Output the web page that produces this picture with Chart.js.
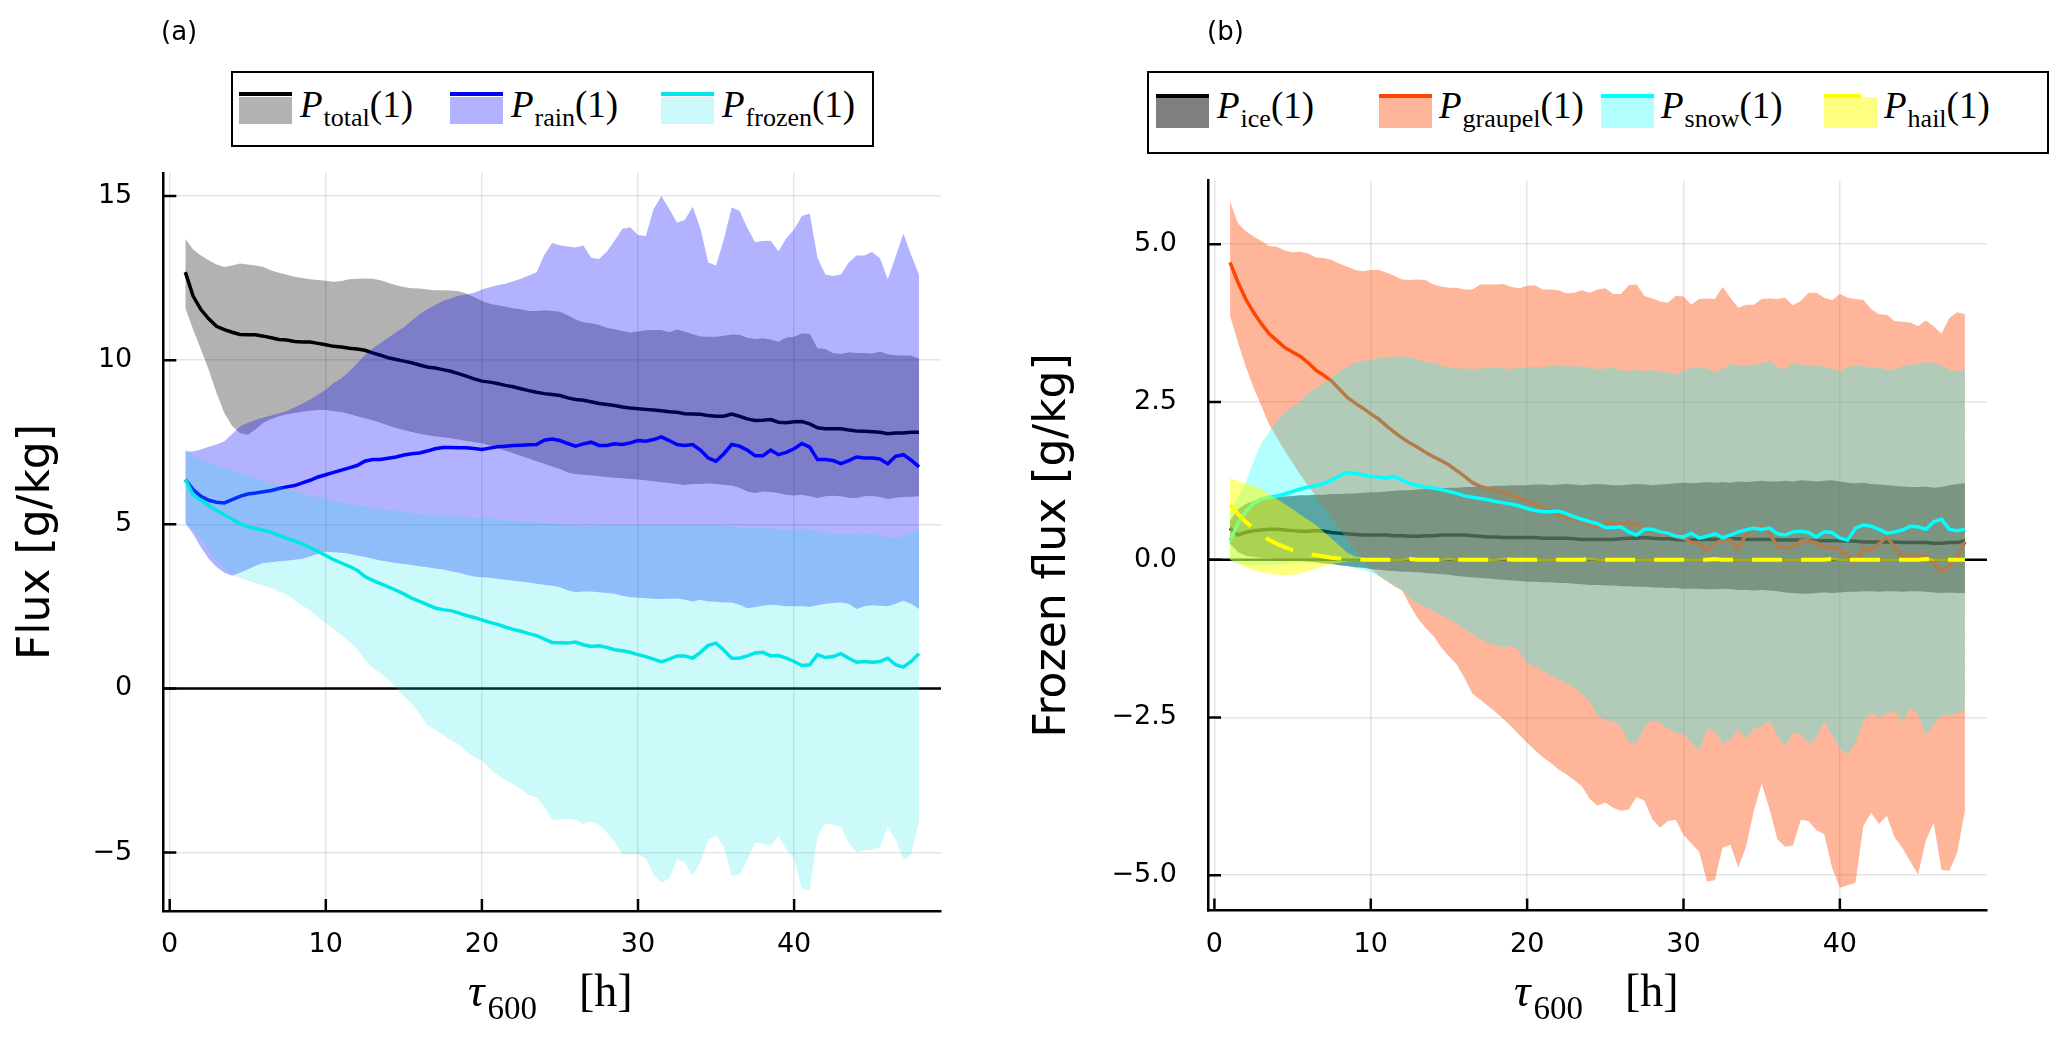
<!DOCTYPE html>
<html>
<head>
<meta charset="utf-8">
<title>Flux ensembles</title>
<script src="https://cdn.jsdelivr.net/npm/chart.js@4.4.1/dist/chart.umd.min.js"></script>
<style>
  html, body { margin: 0; padding: 0; background: #fff; }
  #page { position: relative; width: 2067px; height: 1038px; overflow: hidden; background: #fff; }
  canvas { position: absolute; left: 0; top: 0; }
  .tag { position: absolute; font-family: "DejaVu Sans"; font-size: 26px; line-height: 26px; color: #000; }
  .legend { position: absolute; border: 2px solid #000; background: #fff; box-sizing: border-box; }
  .box { position: absolute; }
  .math { position: absolute; font-family: "Liberation Serif"; color: #000; white-space: nowrap; }
  .math i { font-style: italic; }
  .math .sub { position: relative; line-height: 0; }
</style>
</head>
<body>
<div id="page">
  <canvas id="chartA" width="2067" height="1038"></canvas>
  <canvas id="chartB" width="2067" height="1038"></canvas>
  <div class="tag" style="left:161px;top:18px">(a)</div>
  <div class="tag" style="left:1207px;top:18px">(b)</div>
  <div class="legend" style="left:231px;top:71px;width:643px;height:76px"></div>
  <div class="legend" style="left:1147px;top:71px;width:902px;height:83px"></div>
  <div id="legendItems"></div>
  <div class="math" style="left:468px;top:968px;font-size:46px;line-height:46px"><i>τ</i><span class="sub" style="font-size:33px;top:13px;margin-left:3px">600</span><span style="margin-left:42px">[h]</span></div>
  <div class="math" style="left:1514px;top:968px;font-size:46px;line-height:46px"><i>τ</i><span class="sub" style="font-size:33px;top:13px;margin-left:3px">600</span><span style="margin-left:42px">[h]</span></div>
</div>
<script>
// lead time [h]
const tau = [1,1.5,2,2.5,3,3.5,4,4.5,5,5.5,
  6,6.5,7,7.5,8,8.5,9,9.5,10,10.5,
  11,11.5,12,12.5,13,13.5,14,14.5,15,15.5,
  16,16.5,17,17.5,18,18.5,19,19.5,20,20.5,
  21,21.5,22,22.5,23,23.5,24,24.5,25,25.5,
  26,26.5,27,27.5,28,28.5,29,29.5,30,30.5,
  31,31.5,32,32.5,33,33.5,34,34.5,35,35.5,
  36,36.5,37,37.5,38,38.5,39,39.5,40,40.5,
  41,41.5,42,42.5,43,43.5,44,44.5,45,45.5,
  46,46.5,47,47.5,48];

const xTicks = [0, 10, 20, 30, 40];
const xTickLabels = ['0', '10', '20', '30', '40'];
const yTicksA = [-5, 0, 5, 10, 15];
const yTickLabelsA = ['\u22125', '0', '5', '10', '15'];
const yTicksB = [-5, -2.5, 0, 2.5, 5];
const yTickLabelsB = ['\u22125.0', '\u22122.5', '0.0', '2.5', '5.0'];

// ---- panel (a) ----
const totalMean = [12.68,11.95,11.54,11.26,11.03,10.93,10.85,10.78,10.77,10.77,
  10.73,10.68,10.63,10.61,10.57,10.55,10.55,10.51,10.47,10.42,
  10.40,10.36,10.34,10.30,10.22,10.15,10.07,10.02,9.97,9.92,
  9.85,9.79,9.76,9.71,9.66,9.59,9.51,9.43,9.36,9.33,
  9.29,9.23,9.19,9.13,9.07,9.02,8.98,8.95,8.92,8.85,
  8.80,8.78,8.73,8.68,8.65,8.62,8.57,8.54,8.52,8.50,
  8.48,8.46,8.43,8.41,8.37,8.36,8.35,8.31,8.29,8.29,
  8.36,8.29,8.21,8.16,8.17,8.19,8.11,8.09,8.12,8.13,
  8.06,7.94,7.91,7.91,7.91,7.87,7.84,7.83,7.82,7.80,
  7.76,7.78,7.78,7.80,7.80];
const totalUpper = [13.70,13.37,13.19,13.04,12.91,12.84,12.88,12.94,12.91,12.88,
  12.84,12.73,12.66,12.60,12.54,12.50,12.46,12.44,12.42,12.39,
  12.41,12.46,12.48,12.49,12.48,12.43,12.36,12.28,12.23,12.19,
  12.18,12.15,12.13,12.13,12.12,12.10,12.03,11.92,11.80,11.72,
  11.67,11.63,11.58,11.55,11.50,11.50,11.52,11.50,11.47,11.37,
  11.24,11.15,11.12,11.07,10.99,10.94,10.89,10.84,10.87,10.91,
  10.92,10.92,10.85,10.93,10.87,10.79,10.72,10.71,10.71,10.74,
  10.78,10.77,10.68,10.64,10.67,10.63,10.56,10.69,10.71,10.81,
  10.80,10.36,10.34,10.21,10.19,10.24,10.22,10.22,10.20,10.26,
  10.18,10.15,10.14,10.14,10.05];
const totalLower = [11.59,10.93,10.32,9.71,9.00,8.39,7.99,7.78,7.73,7.89,
  8.09,8.21,8.29,8.35,8.39,8.43,8.46,8.48,8.48,8.44,
  8.42,8.36,8.29,8.23,8.17,8.09,8.01,7.93,7.87,7.81,
  7.76,7.71,7.68,7.65,7.62,7.58,7.54,7.50,7.47,7.40,
  7.32,7.24,7.16,7.08,7.00,6.92,6.84,6.76,6.68,6.58,
  6.53,6.51,6.49,6.46,6.44,6.42,6.40,6.38,6.36,6.34,
  6.31,6.28,6.26,6.23,6.20,6.23,6.23,6.24,6.23,6.20,
  6.18,6.11,6.00,5.95,6.00,5.98,5.95,5.90,5.88,5.90,
  5.85,5.80,5.85,5.87,5.85,5.81,5.80,5.85,5.86,5.83,
  5.77,5.81,5.83,5.84,5.85];

const rainMean = [6.36,6.06,5.85,5.73,5.67,5.65,5.75,5.85,5.92,5.95,
  5.99,6.03,6.09,6.14,6.18,6.26,6.34,6.44,6.51,6.58,
  6.65,6.72,6.79,6.92,6.97,6.97,7.01,7.05,7.11,7.15,
  7.17,7.23,7.30,7.34,7.34,7.33,7.33,7.31,7.28,7.32,
  7.36,7.38,7.40,7.41,7.42,7.43,7.56,7.60,7.55,7.46,
  7.38,7.45,7.50,7.40,7.40,7.45,7.43,7.48,7.55,7.53,
  7.58,7.66,7.55,7.43,7.40,7.43,7.26,7.02,6.92,7.15,
  7.43,7.38,7.26,7.09,7.09,7.26,7.12,7.19,7.30,7.46,
  7.35,6.97,6.97,6.94,6.85,6.94,7.05,7.02,7.02,6.99,
  6.84,7.07,7.12,6.95,6.75];
const rainUpper = [7.22,7.22,7.28,7.36,7.43,7.53,7.75,7.98,8.09,8.18,
  8.25,8.31,8.38,8.45,8.56,8.68,8.80,8.95,9.10,9.30,
  9.45,9.65,9.90,10.15,10.35,10.52,10.68,10.85,11.00,11.20,
  11.40,11.55,11.68,11.80,11.88,11.96,12.00,12.05,12.15,12.22,
  12.28,12.33,12.40,12.48,12.58,12.68,13.20,13.57,13.50,13.46,
  13.43,13.49,13.12,13.08,13.30,13.64,14.00,14.05,13.81,13.78,
  14.60,15.00,14.60,14.19,14.27,14.67,14.01,12.97,12.88,13.68,
  14.65,14.55,14.03,13.59,13.63,13.64,13.32,13.71,13.98,14.39,
  14.47,13.12,12.61,12.56,12.61,12.97,13.19,13.19,13.29,13.10,
  12.46,13.15,13.86,13.20,12.60];
const rainLower = [5.05,4.70,4.30,3.95,3.70,3.52,3.43,3.52,3.62,3.74,
  3.82,3.84,3.87,3.89,3.92,3.95,4.02,4.10,4.16,4.15,
  4.13,4.10,4.05,4.00,3.95,3.90,3.86,3.82,3.79,3.76,
  3.72,3.69,3.65,3.62,3.57,3.52,3.46,3.41,3.39,3.37,
  3.34,3.31,3.28,3.26,3.23,3.19,3.16,3.13,3.08,2.99,
  2.93,2.95,2.95,2.93,2.91,2.88,2.82,2.78,2.76,2.75,
  2.73,2.72,2.73,2.74,2.70,2.65,2.70,2.65,2.64,2.62,
  2.62,2.55,2.44,2.48,2.52,2.55,2.53,2.50,2.50,2.50,
  2.49,2.53,2.58,2.60,2.62,2.58,2.42,2.50,2.53,2.52,
  2.50,2.58,2.67,2.58,2.42];

const frozenMean = [6.36,5.90,5.73,5.57,5.43,5.29,5.16,5.02,4.92,4.87,
  4.82,4.76,4.66,4.57,4.49,4.40,4.28,4.17,4.05,3.92,
  3.82,3.72,3.60,3.41,3.29,3.19,3.09,2.99,2.88,2.75,
  2.65,2.55,2.45,2.40,2.37,2.30,2.22,2.16,2.09,2.01,
  1.95,1.87,1.80,1.74,1.67,1.61,1.50,1.40,1.39,1.38,
  1.41,1.33,1.28,1.30,1.25,1.18,1.15,1.10,1.03,0.97,
  0.89,0.81,0.89,0.99,0.99,0.92,1.10,1.31,1.38,1.16,
  0.92,0.92,0.99,1.08,1.10,0.99,1.00,0.92,0.82,0.70,
  0.72,1.03,0.94,0.97,1.06,0.92,0.80,0.82,0.80,0.82,
  0.92,0.72,0.65,0.82,1.06];
const frozenUpper = [7.30,7.09,6.97,6.87,6.79,6.72,6.65,6.56,6.49,6.41,
  6.33,6.24,6.16,6.08,6.00,5.93,5.87,5.82,5.77,5.72,
  5.67,5.62,5.58,5.54,5.50,5.47,5.44,5.41,5.38,5.34,
  5.32,5.30,5.28,5.26,5.24,5.24,5.22,5.21,5.20,5.18,
  5.16,5.14,5.11,5.09,5.07,5.06,5.04,5.03,5.00,4.97,
  4.96,4.94,4.94,4.96,4.98,4.98,4.97,4.96,4.97,4.98,
  4.97,4.98,4.98,4.98,4.98,4.98,4.97,4.97,4.98,4.96,
  4.94,4.90,4.86,4.89,4.89,4.87,4.84,4.81,4.84,4.86,
  4.84,4.79,4.73,4.71,4.71,4.70,4.68,4.70,4.70,4.66,
  4.61,4.58,4.63,4.73,4.82];
const frozenLower = [5.00,4.85,4.55,4.20,3.90,3.65,3.47,3.36,3.29,3.21,
  3.13,3.06,2.95,2.85,2.68,2.52,2.38,2.17,1.99,1.81,
  1.63,1.43,1.20,0.87,0.62,0.46,0.28,0.01,-0.23,-0.47,
  -0.77,-1.11,-1.26,-1.42,-1.57,-1.69,-1.92,-2.10,-2.20,-2.43,
  -2.64,-2.79,-2.91,-3.07,-3.24,-3.32,-3.60,-4.01,-3.99,-3.96,
  -4.01,-4.13,-4.06,-4.16,-4.39,-4.67,-5.04,-5.06,-5.06,-5.18,
  -5.68,-5.92,-5.79,-5.21,-5.31,-5.71,-5.28,-4.60,-4.49,-4.84,
  -5.71,-5.68,-5.23,-4.70,-4.74,-4.80,-4.49,-4.90,-5.18,-6.12,
  -6.14,-4.51,-4.11,-4.16,-4.21,-4.70,-5.00,-4.92,-4.92,-4.84,
  -4.21,-4.60,-5.21,-5.07,-4.06];

// ---- panel (b) ----
const iceMean = [0.50,0.39,0.43,0.46,0.47,0.48,0.48,0.47,0.46,0.45,
  0.45,0.46,0.45,0.43,0.42,0.41,0.40,0.39,0.39,0.39,
  0.39,0.38,0.38,0.37,0.37,0.38,0.38,0.39,0.39,0.39,
  0.39,0.38,0.37,0.36,0.36,0.35,0.35,0.35,0.35,0.35,
  0.34,0.34,0.34,0.34,0.33,0.32,0.32,0.32,0.32,0.32,
  0.33,0.34,0.34,0.35,0.34,0.33,0.33,0.32,0.31,0.31,
  0.32,0.32,0.32,0.32,0.33,0.33,0.32,0.32,0.32,0.32,
  0.31,0.31,0.31,0.31,0.30,0.30,0.30,0.30,0.30,0.30,
  0.29,0.28,0.28,0.28,0.28,0.28,0.27,0.27,0.27,0.27,
  0.26,0.26,0.27,0.27,0.30];
const iceUpper = [0.62,0.80,0.88,0.93,0.96,0.97,0.99,1.00,1.01,1.02,
  1.02,1.03,1.03,1.04,1.04,1.05,1.05,1.06,1.07,1.07,
  1.08,1.09,1.10,1.10,1.11,1.12,1.12,1.13,1.14,1.14,
  1.15,1.15,1.16,1.16,1.17,1.17,1.18,1.18,1.18,1.19,
  1.19,1.18,1.19,1.20,1.19,1.18,1.19,1.20,1.19,1.18,
  1.18,1.19,1.20,1.19,1.18,1.19,1.20,1.21,1.22,1.21,
  1.22,1.23,1.22,1.23,1.22,1.24,1.23,1.24,1.25,1.24,
  1.24,1.25,1.24,1.26,1.25,1.24,1.25,1.26,1.24,1.22,
  1.21,1.22,1.20,1.19,1.18,1.17,1.16,1.15,1.15,1.16,
  1.14,1.15,1.18,1.20,1.21];
const iceLower = [0.25,0.12,0.06,0.04,0.03,0.02,0.01,0.00,-0.01,-0.02,
  -0.03,-0.04,-0.06,-0.07,-0.09,-0.10,-0.12,-0.13,-0.15,-0.16,
  -0.17,-0.18,-0.19,-0.19,-0.20,-0.21,-0.22,-0.23,-0.24,-0.26,
  -0.27,-0.28,-0.29,-0.30,-0.31,-0.32,-0.33,-0.34,-0.35,-0.35,
  -0.36,-0.36,-0.37,-0.37,-0.38,-0.39,-0.40,-0.40,-0.41,-0.41,
  -0.42,-0.42,-0.43,-0.43,-0.44,-0.44,-0.45,-0.45,-0.46,-0.46,
  -0.46,-0.47,-0.47,-0.46,-0.47,-0.48,-0.48,-0.49,-0.48,-0.49,
  -0.50,-0.52,-0.53,-0.54,-0.54,-0.53,-0.52,-0.53,-0.52,-0.51,
  -0.51,-0.50,-0.50,-0.51,-0.50,-0.50,-0.51,-0.50,-0.50,-0.51,
  -0.52,-0.53,-0.52,-0.53,-0.53];

const graupelMean = [4.71,4.40,4.13,3.92,3.74,3.58,3.47,3.36,3.29,3.22,
  3.12,3.00,2.92,2.83,2.70,2.57,2.48,2.40,2.31,2.23,
  2.12,2.02,1.93,1.85,1.78,1.70,1.63,1.57,1.50,1.41,
  1.32,1.22,1.16,1.12,1.10,1.07,1.02,0.98,0.93,0.88,
  0.82,0.77,0.71,0.67,0.63,0.62,0.55,0.53,0.57,0.57,
  0.56,0.59,0.55,0.47,0.45,0.42,0.40,0.37,0.34,0.27,
  0.26,0.14,0.26,0.31,0.31,0.16,0.40,0.50,0.52,0.42,
  0.20,0.20,0.19,0.30,0.30,0.27,0.20,0.20,0.15,0.07,
  -0.03,0.18,0.15,0.25,0.36,0.20,0.05,0.06,0.06,0.07,
  -0.05,-0.19,-0.10,0.05,0.28];
const graupelUpper = [5.68,5.33,5.21,5.12,5.05,4.97,4.96,4.90,4.87,4.88,
  4.85,4.79,4.78,4.75,4.69,4.64,4.59,4.57,4.59,4.59,
  4.55,4.50,4.44,4.43,4.44,4.43,4.36,4.33,4.31,4.31,
  4.28,4.28,4.36,4.36,4.36,4.37,4.32,4.30,4.34,4.35,
  4.28,4.28,4.27,4.22,4.23,4.27,4.23,4.28,4.30,4.21,
  4.21,4.35,4.36,4.18,4.14,4.09,4.07,4.18,4.17,4.04,
  4.13,4.14,4.13,4.32,4.15,3.99,4.04,4.04,4.13,4.14,
  4.13,4.15,4.03,4.10,4.23,4.23,4.15,4.11,4.21,4.15,
  4.13,4.12,3.97,3.89,3.88,3.78,3.77,3.76,3.70,3.79,
  3.70,3.58,3.83,3.92,3.89];
const graupelLower = [3.86,3.45,3.06,2.73,2.44,2.14,1.93,1.72,1.53,1.34,
  1.17,1.00,0.83,0.66,0.49,0.32,0.15,-0.02,-0.15,-0.25,
  -0.34,-0.42,-0.49,-0.72,-0.93,-1.08,-1.21,-1.39,-1.53,-1.66,
  -1.88,-2.12,-2.22,-2.32,-2.42,-2.53,-2.65,-2.78,-2.90,-3.02,
  -3.13,-3.22,-3.32,-3.40,-3.49,-3.59,-3.79,-3.90,-3.85,-3.93,
  -3.98,-3.96,-3.76,-3.82,-4.11,-4.25,-4.14,-4.12,-4.36,-4.50,
  -4.63,-5.10,-5.08,-4.56,-4.52,-4.88,-4.55,-3.98,-3.55,-3.95,
  -4.43,-4.55,-4.53,-4.12,-4.14,-4.29,-4.35,-4.88,-5.20,-5.16,
  -5.12,-4.22,-4.01,-4.19,-4.06,-4.40,-4.57,-4.78,-4.99,-4.45,
  -4.17,-4.92,-4.93,-4.65,-3.98];

const snowMean = [0.30,0.57,0.76,0.89,0.96,0.99,1.01,1.04,1.08,1.12,
  1.15,1.17,1.21,1.26,1.33,1.38,1.37,1.34,1.32,1.31,
  1.29,1.32,1.26,1.21,1.17,1.15,1.13,1.11,1.08,1.05,
  1.01,0.99,0.97,0.95,0.92,0.90,0.88,0.85,0.81,0.78,
  0.76,0.76,0.77,0.73,0.68,0.64,0.60,0.57,0.51,0.51,
  0.52,0.44,0.39,0.48,0.48,0.44,0.42,0.37,0.36,0.42,
  0.34,0.37,0.41,0.35,0.39,0.44,0.47,0.50,0.48,0.50,
  0.41,0.39,0.44,0.45,0.43,0.36,0.44,0.43,0.34,0.31,
  0.50,0.55,0.53,0.48,0.42,0.44,0.47,0.53,0.52,0.48,
  0.60,0.64,0.48,0.46,0.48];
const snowUpper = [0.75,1.00,1.22,1.55,1.85,2.02,2.20,2.34,2.42,2.52,
  2.64,2.72,2.80,2.88,2.98,3.06,3.12,3.15,3.17,3.19,
  3.21,3.22,3.22,3.21,3.17,3.13,3.12,3.08,3.04,3.03,
  3.03,3.02,3.03,3.04,3.05,3.03,3.02,3.04,3.05,3.06,
  3.05,3.07,3.08,3.07,3.06,3.06,3.05,3.01,3.03,3.04,
  3.00,2.99,3.01,2.99,3.00,2.99,2.97,2.93,3.00,3.04,
  3.04,3.03,2.97,3.02,3.10,3.08,3.07,3.09,3.11,3.16,
  3.05,3.02,3.12,3.09,3.07,3.08,3.06,3.03,2.99,3.05,
  3.08,3.07,3.04,3.05,3.00,3.01,3.07,3.09,3.10,3.13,
  3.12,3.08,3.00,2.99,3.01];
const snowLower = [-0.02,-0.06,-0.08,-0.09,-0.09,-0.09,-0.08,-0.07,-0.06,-0.05,
  -0.05,-0.05,-0.05,-0.06,-0.08,-0.10,-0.13,-0.16,-0.20,-0.26,
  -0.33,-0.41,-0.49,-0.60,-0.70,-0.76,-0.81,-0.88,-0.95,-1.02,
  -1.10,-1.18,-1.27,-1.32,-1.36,-1.39,-1.37,-1.45,-1.64,-1.70,
  -1.76,-1.83,-1.90,-1.96,-2.02,-2.13,-2.25,-2.48,-2.54,-2.56,
  -2.65,-2.90,-2.90,-2.65,-2.55,-2.58,-2.67,-2.75,-2.77,-2.90,
  -3.02,-2.70,-2.72,-2.92,-2.84,-2.70,-2.84,-2.68,-2.65,-2.55,
  -2.79,-2.95,-2.75,-2.76,-2.92,-2.82,-2.57,-2.78,-3.00,-3.08,
  -2.92,-2.55,-2.42,-2.50,-2.44,-2.40,-2.58,-2.35,-2.45,-2.78,
  -2.62,-2.46,-2.46,-2.44,-2.38];

const hailMean = [0.87,0.73,0.60,0.50,0.40,0.31,0.25,0.20,0.15,0.12,
  0.09,0.07,0.05,0.03,0.02,0.01,0.01,0.00,0.00,0.00,
  0.00,0.00,0.00,0.01,0.00,0.00,0.00,0.00,0.01,0.00,
  0.00,0.00,0.00,0.00,0.00,0.01,0.00,0.00,0.00,0.00,
  0.00,0.00,0.00,0.00,0.00,0.00,0.01,0.00,0.00,0.00,
  0.00,0.00,0.00,0.00,0.00,0.00,0.00,0.00,0.00,0.00,
  0.00,0.00,0.01,0.00,0.00,0.00,0.00,0.00,0.00,0.00,
  0.00,0.00,0.00,0.00,0.00,0.00,0.00,0.01,0.00,0.00,
  0.00,0.00,0.00,0.00,0.00,0.00,0.00,0.00,0.00,0.01,
  0.00,0.00,0.00,0.00,0.00];
const hailUpper = [1.29,1.25,1.21,1.17,1.12,1.04,0.96,0.88,0.80,0.71,
  0.63,0.55,0.44,0.33,0.22,0.11,0.05,0.03,0.02,0.02,
  0.02,0.02,0.02,0.03,0.02,0.02,0.02,0.02,0.03,0.02,
  0.02,0.02,0.02,0.02,0.02,0.03,0.02,0.02,0.02,0.02,
  0.02,0.02,0.02,0.02,0.02,0.02,0.03,0.02,0.02,0.02,
  0.02,0.02,0.02,0.02,0.02,0.02,0.02,0.02,0.02,0.02,
  0.02,0.02,0.03,0.02,0.02,0.02,0.02,0.02,0.02,0.02,
  0.02,0.02,0.02,0.02,0.02,0.02,0.02,0.03,0.02,0.02,
  0.02,0.02,0.02,0.02,0.02,0.02,0.02,0.02,0.02,0.03,
  0.02,0.02,0.02,0.02,0.02];
const hailLower = [0.00,-0.05,-0.12,-0.17,-0.20,-0.22,-0.24,-0.25,-0.24,-0.22,
  -0.18,-0.14,-0.10,-0.07,-0.05,-0.03,-0.02,-0.02,-0.02,-0.02,
  -0.02,-0.02,-0.02,-0.01,-0.02,-0.02,-0.02,-0.02,-0.01,-0.02,
  -0.02,-0.02,-0.02,-0.02,-0.02,-0.01,-0.02,-0.02,-0.02,-0.02,
  -0.02,-0.02,-0.02,-0.02,-0.02,-0.02,-0.01,-0.02,-0.02,-0.02,
  -0.02,-0.02,-0.02,-0.02,-0.02,-0.02,-0.02,-0.02,-0.02,-0.02,
  -0.02,-0.02,-0.01,-0.02,-0.02,-0.02,-0.02,-0.02,-0.02,-0.02,
  -0.02,-0.02,-0.02,-0.02,-0.02,-0.02,-0.02,-0.01,-0.02,-0.02,
  -0.02,-0.02,-0.02,-0.02,-0.02,-0.02,-0.02,-0.02,-0.02,-0.01,
  -0.02,-0.02,-0.02,-0.02,-0.02];

// series styling
const seriesA = [
  { name: 'total',  lower: totalLower,  upper: totalUpper,  mean: totalMean,  line: '#000000',        fill: 'rgba(0,0,0,0.3)' },
  { name: 'rain',   lower: rainLower,   upper: rainUpper,   mean: rainMean,   line: '#0000ff',        fill: 'rgba(0,0,255,0.3)' },
  { name: 'frozen', lower: frozenLower, upper: frozenUpper, mean: frozenMean, line: 'rgb(0,229,229)', fill: 'rgba(0,229,229,0.2)' }
];
const seriesB = [
  { name: 'ice',     lower: iceLower,     upper: iceUpper,     mean: iceMean,     line: '#000000',       fill: 'rgba(0,0,0,0.5)' },
  { name: 'graupel', lower: graupelLower, upper: graupelUpper, mean: graupelMean, line: 'rgb(255,69,0)', fill: 'rgba(255,69,0,0.4)' },
  { name: 'snow',    lower: snowLower,    upper: snowUpper,    mean: snowMean,    line: '#00ffff',       fill: 'rgba(0,255,255,0.3)' },
  { name: 'hail',    lower: hailLower,    upper: hailUpper,    mean: hailMean,    line: '#ffff00',       fill: 'rgba(255,255,0,0.5)', dash: [30, 19], width: 4 }
];

Chart.defaults.font.family = 'DejaVu Sans';
Chart.defaults.color = '#000';

function pts(ys) {
  return ys.map((y, i) => ({ x: tau[i], y }));
}

// each series: invisible lower edge, filled upper edge, then the mean line on top
function buildDatasets(series) {
  const sets = [];
  let order = series.length * 3 + 1;
  series.forEach(s => {
    const lowIdx = sets.length;
    sets.push({ label: s.name + ' lo', data: pts(s.lower), borderWidth: 0, borderColor: 'rgba(0,0,0,0)',
      pointRadius: 0, fill: false, order: order-- });
    sets.push({ label: s.name + ' hi', data: pts(s.upper), borderWidth: 0, borderColor: 'rgba(0,0,0,0)',
      backgroundColor: s.fill, pointRadius: 0, fill: { target: lowIdx, above: s.fill, below: s.fill }, order: order-- });
    sets.push({ label: s.name, data: pts(s.mean), borderColor: s.line, borderWidth: s.width || 3.5,
      borderDash: s.dash || [], pointRadius: 0, fill: false, order: order-- });
  });
  return sets;
}

// zero line under the bands, inward tick marks on top
const framePlugin = {
  id: 'frame',
  beforeDatasetsDraw(chart) {
    const { ctx, chartArea: a, scales: { y } } = chart;
    const py = y.getPixelForValue(0);
    ctx.save();
    ctx.strokeStyle = '#000';
    ctx.lineWidth = 2.5;
    ctx.beginPath();
    ctx.moveTo(a.left, py);
    ctx.lineTo(a.right, py);
    ctx.stroke();
    ctx.restore();
  },
  afterDraw(chart) {
    const { ctx, chartArea: a, scales: { x, y } } = chart;
    ctx.save();
    ctx.strokeStyle = '#000';
    ctx.lineWidth = 2.5;
    ctx.beginPath();
    x.ticks.forEach(t => {
      const px = x.getPixelForValue(t.value);
      ctx.moveTo(px, a.bottom);
      ctx.lineTo(px, a.bottom - 12);
    });
    y.ticks.forEach(t => {
      const py = y.getPixelForValue(t.value);
      ctx.moveTo(a.left, py);
      ctx.lineTo(a.left + 13, py);
    });
    ctx.stroke();
    ctx.restore();
  }
};

function makeChart(id, series, cfg) {
  return new Chart(document.getElementById(id), {
    type: 'line',
    data: { datasets: buildDatasets(series) },
    plugins: [framePlugin],
    options: {
      responsive: false,
      animation: false,
      devicePixelRatio: 1,
      events: [],
      layout: { autoPadding: false, padding: cfg.padding },
      plugins: { legend: { display: false }, tooltip: { enabled: false }, filler: { propagate: false } },
      elements: { line: { tension: 0 } },
      scales: {
        x: {
          type: 'linear', min: -0.41, max: 49.41,
          afterBuildTicks: s => { s.ticks = xTicks.map(v => ({ value: v })); },
          afterFit: s => { s.height = cfg.xHeight; },
          ticks: { autoSkip: false, maxRotation: 0, padding: 18, color: '#000',
            font: { size: 27 }, callback: (v, i) => xTickLabels[i] },
          grid: { color: 'rgba(0,0,0,0.1)', lineWidth: 1.5, drawTicks: false },
          border: { display: true, color: '#000', width: 2.5 }
        },
        y: {
          type: 'linear', min: cfg.ymin, max: cfg.ymax,
          afterBuildTicks: s => { s.ticks = cfg.yTicks.map(v => ({ value: v })); },
          afterFit: s => { s.width = cfg.yWidth; },
          ticks: { autoSkip: false, padding: 31, color: '#000',
            font: { size: 27 }, callback: (v, i) => cfg.yLabels[i] },
          grid: { color: 'rgba(0,0,0,0.1)', lineWidth: 1.5, drawTicks: false },
          border: { display: true, color: '#000', width: 2.5 },
          title: { display: true, text: cfg.yTitle, color: '#000',
            font: { size: 44, lineHeight: 0.9 }, padding: { top: cfg.titlePad, bottom: 0 } }
        }
      }
    }
  });
}

makeChart('chartA', seriesA, {
  padding: { left: 0, top: 173, right: 2067 - 941, bottom: 0 },
  yWidth: 163.3, xHeight: 127, ymin: -6.78, ymax: 15.70,
  yTicks: yTicksA, yLabels: yTickLabelsA, yTitle: 'Flux [g/kg]', titlePad: 18
});
makeChart('chartB', seriesB, {
  padding: { left: 1030, top: 180.4, right: 2067 - 1987, bottom: 0 },
  yWidth: 178, xHeight: 127.5, ymin: -5.56, ymax: 6.01,
  yTicks: yTicksB, yLabels: yTickLabelsB, yTitle: 'Frozen flux [g/kg]', titlePad: 4
});

// legends (HTML, LaTeX-like labels)
const legendA = { series: seriesA, patchX: [239, 450, 661], textX: [300, 511, 722],
  patchTop: 97, patchH: 27, lineTop: 92, textTop: 85.7 };
const legendB = { series: seriesB, patchX: [1156, 1379, 1601, 1824], textX: [1217, 1439, 1661, 1884],
  patchTop: 97, patchH: 31, lineTop: 94, textTop: 87 };

function drawLegend(lg) {
  const host = document.getElementById('legendItems');
  lg.series.forEach((s, i) => {
    const patch = document.createElement('div');
    patch.className = 'box';
    patch.style.cssText = `left:${lg.patchX[i]}px;top:${lg.patchTop}px;width:53px;height:${lg.patchH}px;background:${s.fill}`;
    host.appendChild(patch);
    const line = document.createElement('div');
    line.className = 'box';
    const w = s.dash ? 37 : 53;
    line.style.cssText = `left:${lg.patchX[i]}px;top:${lg.lineTop}px;width:${w}px;height:3.5px;background:${s.line}`;
    host.appendChild(line);
    const txt = document.createElement('div');
    txt.className = 'math';
    txt.style.cssText = `left:${lg.textX[i]}px;top:${lg.textTop}px;font-size:37px;line-height:37px`;
    txt.innerHTML = `<i>P</i><span class="sub" style="font-size:26px;top:9px;margin-left:1px">${s.name}</span>(1)`;
    host.appendChild(txt);
  });
}
drawLegend(legendA);
drawLegend(legendB);
</script>
</body>
</html>
